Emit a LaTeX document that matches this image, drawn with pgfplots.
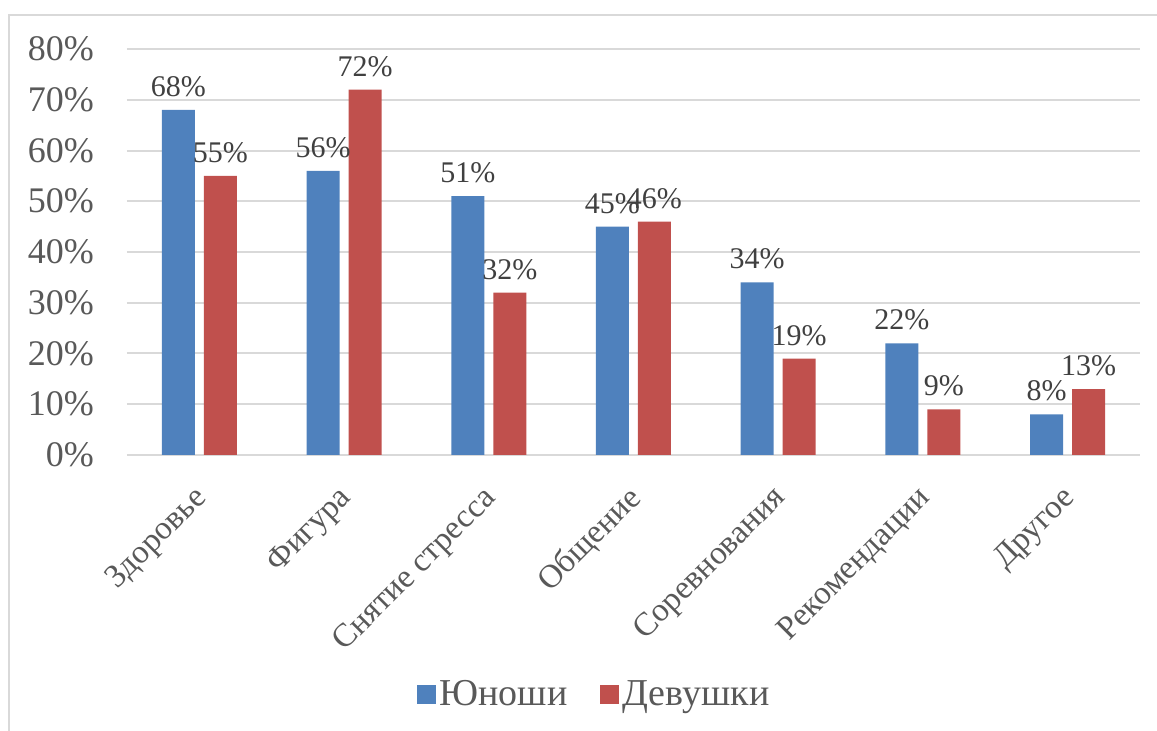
\documentclass[border=0pt]{standalone}
\usepackage{fontspec}
\setmainfont{Liberation Serif}
\usepackage{pgfplots}
\pgfplotsset{compat=1.18}
\definecolor{cblue}{HTML}{4F81BD}
\definecolor{cred}{HTML}{C0504D}
\definecolor{txt}{HTML}{595959}
\definecolor{lbl}{HTML}{404040}
\definecolor{grd}{HTML}{D9D9D9}
\begin{document}
\begin{tikzpicture}
\useasboundingbox (-63.5pt,-138pt) rectangle (515pt,227.5pt);
\draw[grd, line width=1pt] (-59pt,-200pt) -- (-59pt,220pt) -- (530pt,220pt);
\begin{axis}[
  at={(0,0)}, anchor=south west,
  scale only axis, width=506.5pt, height=203pt,
  ybar, ymin=0, ymax=80, ytick distance=10,
  xmin=-0.5, xmax=6.5,
  xtick={0,1,2,3,4,5,6},
  xticklabels={Здоровье,Фигура,Снятие стресса,Общение,Соревнования,Рекомендации,Другое},
  axis line style={draw=none},
  major tick length=0pt,
  ymajorgrids, grid style={grd, line width=1pt},
  /pgf/number format/assume math mode=true,
  yticklabel={\pgfmathprintnumber{\tick}\%},
  yticklabel style={font=\fontsize{18}{21}\selectfont, text=txt, xshift=-13pt},
  xticklabel style={font=\fontsize{16.5}{19}\selectfont, text=txt, xshift=4pt, yshift=-17pt, rotate=45, anchor=east},
  bar width=16.5pt,
  nodes near coords={\pgfmathprintnumber{\pgfplotspointmeta}\%},
  nodes near coords style={font=\fontsize{15}{18}\selectfont, text=lbl, yshift=3pt},
  legend style={at={(0.462,-0.59)}, anchor=center, draw=none, fill=none,
    legend columns=2, font=\fontsize{19}{22}\selectfont, text=txt,
    /tikz/every even column/.append style={column sep=14pt}},
  legend image code/.code={\fill[#1] (0pt,-4.75pt) rectangle (9.5pt,4.75pt);},
]
\addplot[fill=cblue, draw=none, bar shift=-10.5pt] coordinates {(0,68) (1,56) (2,51) (3,45) (4,34) (5,22) (6,8)};
\addplot[fill=cred, draw=none, bar shift=10.5pt] coordinates {(0,55) (1,72) (2,32) (3,46) (4,19) (5,9) (6,13)};
\legend{Юноши, Девушки}
\end{axis}
\end{tikzpicture}
\end{document}
